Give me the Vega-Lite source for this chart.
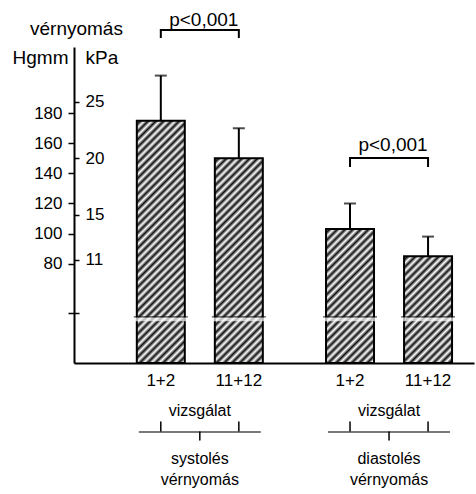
{
  "$schema": "https://vega.github.io/schema/vega-lite/v6.json",
  "width": 400,
  "height": 316,
  "autosize": {"type": "none"},
  "padding": {"left": 74, "top": 47, "right": 2, "bottom": 131},
  "background": "white",
  "config": {
    "view": {"stroke": null},
    "font": "Liberation Sans",
    "axis": {"grid": false, "domainColor": "black", "tickColor": "black", "labelColor": "black", "titleColor": "black", "labelFont": "Liberation Sans", "titleFont": "Liberation Sans", "titleFontWeight": "normal"},
    "title": {"fontSize": 19}
  },
  "title": {"text": "vérnyomás", "anchor": "start", "frame": "group", "dx": -44, "offset": -28, "fontSize": 19, "fontWeight": "normal", "color": "black", "font": "Liberation Sans"},
  "params": [
    {"name": "csikok", "value": [
      {"offset": 0, "color": "#ffffff"}, {"offset": 0.01333, "color": "#111111"}, {"offset": 0.02667, "color": "#ffffff"}, {"offset": 0.04, "color": "#111111"},
      {"offset": 0.05333, "color": "#ffffff"}, {"offset": 0.06667, "color": "#111111"}, {"offset": 0.08, "color": "#ffffff"}, {"offset": 0.09333, "color": "#111111"},
      {"offset": 0.10667, "color": "#ffffff"}, {"offset": 0.12, "color": "#111111"}, {"offset": 0.13333, "color": "#ffffff"}, {"offset": 0.14667, "color": "#111111"},
      {"offset": 0.16, "color": "#ffffff"}, {"offset": 0.17333, "color": "#111111"}, {"offset": 0.18667, "color": "#ffffff"}, {"offset": 0.2, "color": "#111111"},
      {"offset": 0.21333, "color": "#ffffff"}, {"offset": 0.22667, "color": "#111111"}, {"offset": 0.24, "color": "#ffffff"}, {"offset": 0.25333, "color": "#111111"},
      {"offset": 0.26667, "color": "#ffffff"}, {"offset": 0.28, "color": "#111111"}, {"offset": 0.29333, "color": "#ffffff"}, {"offset": 0.30667, "color": "#111111"},
      {"offset": 0.32, "color": "#ffffff"}, {"offset": 0.33333, "color": "#111111"}, {"offset": 0.34667, "color": "#ffffff"}, {"offset": 0.36, "color": "#111111"},
      {"offset": 0.37333, "color": "#ffffff"}, {"offset": 0.38667, "color": "#111111"}, {"offset": 0.4, "color": "#ffffff"}, {"offset": 0.41333, "color": "#111111"},
      {"offset": 0.42667, "color": "#ffffff"}, {"offset": 0.44, "color": "#111111"}, {"offset": 0.45333, "color": "#ffffff"}, {"offset": 0.46667, "color": "#111111"},
      {"offset": 0.48, "color": "#ffffff"}, {"offset": 0.49333, "color": "#111111"}, {"offset": 0.50667, "color": "#ffffff"}, {"offset": 0.52, "color": "#111111"},
      {"offset": 0.53333, "color": "#ffffff"}, {"offset": 0.54667, "color": "#111111"}, {"offset": 0.56, "color": "#ffffff"}, {"offset": 0.57333, "color": "#111111"},
      {"offset": 0.58667, "color": "#ffffff"}, {"offset": 0.6, "color": "#111111"}, {"offset": 0.61333, "color": "#ffffff"}, {"offset": 0.62667, "color": "#111111"},
      {"offset": 0.64, "color": "#ffffff"}, {"offset": 0.65333, "color": "#111111"}, {"offset": 0.66667, "color": "#ffffff"}, {"offset": 0.68, "color": "#111111"},
      {"offset": 0.69333, "color": "#ffffff"}, {"offset": 0.70667, "color": "#111111"}, {"offset": 0.72, "color": "#ffffff"}, {"offset": 0.73333, "color": "#111111"},
      {"offset": 0.74667, "color": "#ffffff"}, {"offset": 0.76, "color": "#111111"}, {"offset": 0.77333, "color": "#ffffff"}, {"offset": 0.78667, "color": "#111111"},
      {"offset": 0.8, "color": "#ffffff"}, {"offset": 0.81333, "color": "#111111"}, {"offset": 0.82667, "color": "#ffffff"}, {"offset": 0.84, "color": "#111111"},
      {"offset": 0.85333, "color": "#ffffff"}, {"offset": 0.86667, "color": "#111111"}, {"offset": 0.88, "color": "#ffffff"}, {"offset": 0.89333, "color": "#111111"},
      {"offset": 0.90667, "color": "#ffffff"}, {"offset": 0.92, "color": "#111111"}, {"offset": 0.93333, "color": "#ffffff"}, {"offset": 0.94667, "color": "#111111"},
      {"offset": 0.96, "color": "#ffffff"}, {"offset": 0.97333, "color": "#111111"}, {"offset": 0.98667, "color": "#ffffff"}, {"offset": 1, "color": "#111111"}
    ]}
  ],
  "datasets": {
    "bars": [
      {"nyomas": "systolés", "vizsgalat": "1+2", "atlag": 175, "felso": 205},
      {"nyomas": "systolés", "vizsgalat": "11+12", "atlag": 150, "felso": 170},
      {"nyomas": "diastolés", "vizsgalat": "1+2", "atlag": 103, "felso": 120},
      {"nyomas": "diastolés", "vizsgalat": "11+12", "atlag": 85, "felso": 98}
    ],
    "brackets": [
      {"nyomas": "systolés", "vizsgalat": "1+2", "y": 230, "sorrend": 1},
      {"nyomas": "systolés", "vizsgalat": "1+2", "y": 235.3, "sorrend": 2},
      {"nyomas": "systolés", "vizsgalat": "11+12", "y": 235.3, "sorrend": 3},
      {"nyomas": "systolés", "vizsgalat": "11+12", "y": 230, "sorrend": 4},
      {"nyomas": "diastolés", "vizsgalat": "1+2", "y": 144.3, "sorrend": 1},
      {"nyomas": "diastolés", "vizsgalat": "1+2", "y": 150.2, "sorrend": 2},
      {"nyomas": "diastolés", "vizsgalat": "11+12", "y": 150.2, "sorrend": 3},
      {"nyomas": "diastolés", "vizsgalat": "11+12", "y": 144.3, "sorrend": 4}
    ],
    "pvalues": [
      {"nyomas": "systolés", "szoveg": "p<0,001", "y": 241.9},
      {"nyomas": "diastolés", "szoveg": "p<0,001", "y": 159.2}
    ]
  },
  "data": {"name": "bars"},
  "resolve": {"axis": {"y": "independent"}},
  "layer": [
    {
      "mark": {"type": "bar", "stroke": "black", "strokeWidth": 2,
        "fill": {"expr": "{gradient: 'linear', x1: 0, y1: 0, x2: 14000 / (2304 + pow(scale('y', 14) - scale('y', datum.atlag), 2)), y2: 291.7 * (scale('y', 14) - scale('y', datum.atlag)) / (2304 + pow(scale('y', 14) - scale('y', datum.atlag), 2)), stops: csikok}"}},
      "encoding": {
        "x": {"field": "nyomas", "type": "nominal", "sort": ["systolés", "diastolés"],
          "scale": {"paddingInner": 0.334, "paddingOuter": 0.224, "align": 0.741},
          "axis": {"title": null, "ticks": false, "domainWidth": 2, "labelAngle": 0, "labelBaseline": "top", "labelPadding": 87, "labelLineHeight": 21, "labelFontSize": 16, "labelLimit": 400,
            "labelExpr": "[datum.label, 'vérnyomás']"}},
        "xOffset": {"field": "vizsgalat", "type": "nominal", "sort": ["1+2", "11+12"], "scale": {"paddingInner": 0.385, "paddingOuter": 0}},
        "y": {"field": "atlag", "type": "quantitative", "scale": {"domain": [14, 224], "nice": false, "zero": false},
          "axis": {"orient": "left", "values": [47.2, 80, 100, 120, 140, 160, 180], "labelExpr": "datum.value < 50 ? '' : datum.label", "title": "Hgmm", "titleAngle": 0, "titleAlign": "right", "titleBaseline": "middle", "titleX": -6, "titleY": 10, "titleFontSize": 19, "domainWidth": 2, "tickSize": 6, "tickWidth": 1.5, "labelPadding": 6, "labelFontSize": 17}},
        "y2": {"datum": 14}
      }
    },
    {
      "mark": {"type": "tick", "color": "white", "thickness": 4, "size": 56},
      "encoding": {
        "x": {"field": "nyomas", "type": "nominal", "sort": ["systolés", "diastolés"]},
        "xOffset": {"field": "vizsgalat", "type": "nominal", "sort": ["1+2", "11+12"]},
        "y": {"datum": 43, "type": "quantitative", "axis": null}
      }
    },
    {
      "mark": {"type": "tick", "color": "black", "thickness": 1.2, "size": 54},
      "encoding": {
        "x": {"field": "nyomas", "type": "nominal", "sort": ["systolés", "diastolés"]},
        "xOffset": {"field": "vizsgalat", "type": "nominal", "sort": ["1+2", "11+12"]},
        "y": {"datum": 44.6, "type": "quantitative", "axis": null}
      }
    },
    {
      "mark": {"type": "rule", "color": "black", "strokeWidth": 2},
      "encoding": {
        "x": {"field": "nyomas", "type": "nominal", "sort": ["systolés", "diastolés"]},
        "xOffset": {"field": "vizsgalat", "type": "nominal", "sort": ["1+2", "11+12"]},
        "y": {"field": "atlag", "type": "quantitative",
          "axis": {"orient": "right", "offset": -400, "values": [47.2, 82.5, 112.5, 150, 187.5], "labelExpr": "datum.value < 50 ? '' : format(datum.value / 7.5, 'd')", "title": "kPa", "titleAngle": 0, "titleAlign": "left", "titleBaseline": "middle", "titleX": 11, "titleY": 10, "titleFontSize": 19, "domain": false, "tickSize": 5, "tickWidth": 1.5, "labelPadding": 6, "labelFontSize": 17}},
        "y2": {"field": "felso"}
      }
    },
    {
      "mark": {"type": "tick", "color": "black", "thickness": 2, "size": 12},
      "encoding": {
        "x": {"field": "nyomas", "type": "nominal", "sort": ["systolés", "diastolés"]},
        "xOffset": {"field": "vizsgalat", "type": "nominal", "sort": ["1+2", "11+12"]},
        "y": {"field": "felso", "type": "quantitative", "axis": null}
      }
    },
    {
      "mark": {"type": "text", "color": "black", "fontSize": 17, "baseline": "middle", "dy": 18},
      "encoding": {
        "x": {"field": "nyomas", "type": "nominal", "sort": ["systolés", "diastolés"]},
        "xOffset": {"field": "vizsgalat", "type": "nominal", "sort": ["1+2", "11+12"]},
        "y": {"datum": 14, "type": "quantitative", "axis": null},
        "text": {"field": "vizsgalat"}
      }
    },
    {
      "transform": [{"filter": "datum.vizsgalat === '1+2'"}],
      "mark": {"type": "text", "color": "black", "fontSize": 16, "baseline": "middle", "dy": 48},
      "encoding": {
        "x": {"field": "nyomas", "type": "nominal", "sort": ["systolés", "diastolés"]},
        "y": {"datum": 14, "type": "quantitative", "axis": null},
        "text": {"value": "vizsgálat"}
      }
    },
    {
      "transform": [{"filter": "datum.vizsgalat === '1+2'"}],
      "mark": {"type": "tick", "color": "black", "thickness": 1.5, "size": 122, "yOffset": 69},
      "encoding": {
        "x": {"field": "nyomas", "type": "nominal", "sort": ["systolés", "diastolés"]},
        "y": {"datum": 14, "type": "quantitative", "axis": null}
      }
    },
    {
      "transform": [{"filter": "datum.vizsgalat === '1+2'"}],
      "mark": {"type": "rule", "color": "black", "strokeWidth": 1.5, "strokeCap": "round", "xOffset": -24, "yOffset": 59, "y2Offset": 68},
      "encoding": {
        "x": {"field": "nyomas", "type": "nominal", "sort": ["systolés", "diastolés"]},
        "xOffset": {"field": "vizsgalat", "type": "nominal", "sort": ["1+2", "11+12"]},
        "y": {"datum": 14, "type": "quantitative", "axis": null},
        "y2": {"datum": 14}
      }
    },
    {
      "transform": [{"filter": "datum.vizsgalat === '11+12'"}],
      "mark": {"type": "rule", "color": "black", "strokeWidth": 1.5, "strokeCap": "round", "xOffset": 24, "yOffset": 59, "y2Offset": 68},
      "encoding": {
        "x": {"field": "nyomas", "type": "nominal", "sort": ["systolés", "diastolés"]},
        "xOffset": {"field": "vizsgalat", "type": "nominal", "sort": ["1+2", "11+12"]},
        "y": {"datum": 14, "type": "quantitative", "axis": null},
        "y2": {"datum": 14}
      }
    },
    {
      "transform": [{"filter": "datum.vizsgalat === '1+2'"}],
      "mark": {"type": "rule", "color": "black", "strokeWidth": 1.5, "strokeCap": "round", "yOffset": 69, "y2Offset": 77},
      "encoding": {
        "x": {"field": "nyomas", "type": "nominal", "sort": ["systolés", "diastolés"]},
        "y": {"datum": 14, "type": "quantitative", "axis": null},
        "y2": {"datum": 14}
      }
    },
    {
      "data": {"name": "brackets"},
      "mark": {"type": "line", "color": "black", "strokeWidth": 2},
      "encoding": {
        "x": {"field": "nyomas", "type": "nominal", "sort": ["systolés", "diastolés"]},
        "xOffset": {"field": "vizsgalat", "type": "nominal", "sort": ["1+2", "11+12"]},
        "y": {"field": "y", "type": "quantitative", "axis": null},
        "detail": {"field": "nyomas"},
        "order": {"field": "sorrend"}
      }
    },
    {
      "data": {"name": "pvalues"},
      "mark": {"type": "text", "color": "black", "fontSize": 19, "baseline": "middle", "dx": 4},
      "encoding": {
        "x": {"field": "nyomas", "type": "nominal", "sort": ["systolés", "diastolés"]},
        "y": {"field": "y", "type": "quantitative", "axis": null},
        "text": {"field": "szoveg"}
      }
    }
  ]
}
